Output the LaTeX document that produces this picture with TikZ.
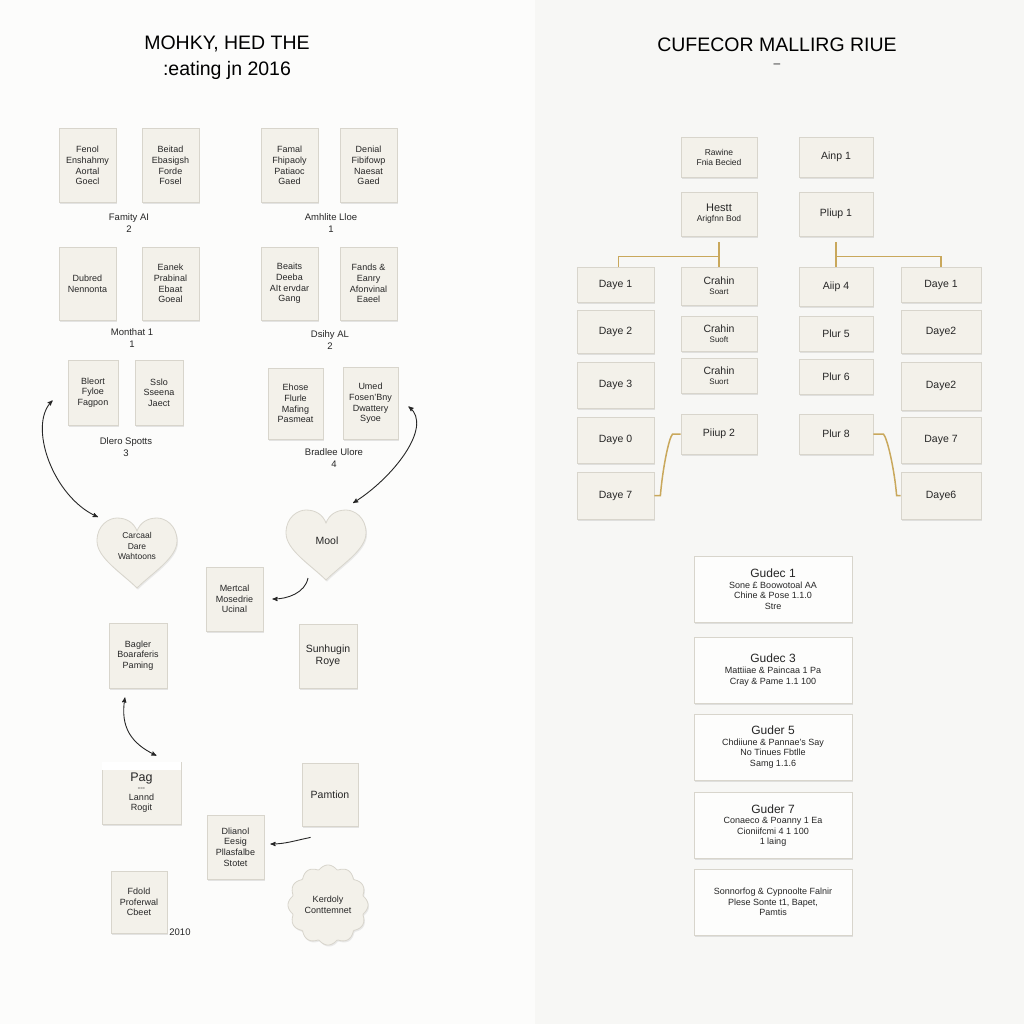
\documentclass[tikz,border=0pt]{standalone}
\usepackage{fontspec}
\setmainfont{Liberation Sans}
\usetikzlibrary{shapes,shadows,arrows,positioning}
\definecolor{leftbg}{HTML}{FCFCFB}
\definecolor{rightbg}{HTML}{F7F7F5}
\definecolor{cardfill}{HTML}{F3F1EA}
\definecolor{cardline}{HTML}{D8D5CC}
\definecolor{guidefill}{HTML}{FDFDFC}
\definecolor{goldline}{HTML}{C9A85C}
\definecolor{ink}{HTML}{262626}
\newcommand{\heartat}[1]{\draw[heart,shift={(#1)}] (0,35)
  .. controls (-15,20) and (-40,5) .. (-40,-12)
  .. controls (-40,-28) and (-28,-35) .. (-20,-35)
  .. controls (-10,-35) and (-3,-30) .. (0,-22)
  .. controls (3,-30) and (10,-35) .. (20,-35)
  .. controls (28,-35) and (40,-28) .. (40,-12)
  .. controls (40,5) and (15,20) .. (0,35) -- cycle;}

\begin{document}
\begin{tikzpicture}[x=1pt,y=-1pt,>=stealth',line width=0.8pt,
  node distance=83pt]
  \tikzstyle{card}=[draw=cardline, fill=cardfill, align=center, inner sep=2pt,
    text=ink, font=\fontsize{9}{10.6}\selectfont,
    drop shadow={opacity=0.2,shadow xshift=1.2pt,shadow yshift=-1.6pt}]
  \tikzstyle{tall}=[card, minimum width=57, minimum height=74]
  \tikzstyle{big}=[font=\fontsize{10.5}{12}\selectfont]
  \tikzstyle{tag}=[align=center, text=ink, font=\fontsize{9.5}{12}\selectfont]
  \tikzstyle{slot}=[card, minimum width=77, minimum height=44, big]
  \tikzstyle{cell}=[card, minimum width=76, minimum height=36, big]
  \tikzstyle{guide}=[card, fill=guidefill, minimum width=158, minimum height=66]
  \tikzstyle{heart}=[draw=cardline, fill=cardfill,
    drop shadow={opacity=0.15,shadow xshift=1pt,shadow yshift=-1.5pt}]
  \tikzstyle{link}=[<->, draw=ink, line width=0.9pt]
  \tikzstyle{gold}=[draw=goldline, line width=1.5pt]

  \fill[leftbg] (0,0) rectangle (1024,1024);
  \fill[rightbg] (535,0) rectangle (1024,1024);
  \useasboundingbox (0,0) rectangle (1024,1024);

  % left panel
  \node[tag, font=\fontsize{19.5}{26}\selectfont, text=black] (TL) at (227,58)
    {MOHKY, HED THE\\:eating jn 2016};

  \node[tall] (L1) at (87.5,165.5) {Fenol\\Enshahmy\\Aortal\\Goecl};
  \node[tall] (L2) [right of=L1]   {Beitad\\Ebasigsh\\Forde\\Fosel};
  \node[tall] (L3) at (289.5,165.5) {Famal\\Fhipaoly\\Patiaoc\\Gaed};
  \node[tall] (L4) [right of=L3, node distance=79pt] {Denial\\Fibifowp\\Naesat\\Gaed};
  \node[tag] (T1) at (129,223) {Famity AI\\2};
  \node[tag] (T2) at (331,223) {Amhlite Lloe\\1};

  \node[tall, minimum height=73] (L5) at (87.5,283.5) {Dubred\\Nennonta};
  \node[tall, minimum height=73] (L6) [right of=L5] {Eanek\\Prabinal\\Ebaat\\Goeal};
  \node[tall, minimum height=73] (L7) at (289.5,283.5) {Beaits\\Deeba\\AIt ervdar\\Gang};
  \node[tall, minimum height=73] (L8) [right of=L7, node distance=79pt] {Fands \&\\Eanry\\Afonvinal\\Eaeel};
  \node[tag] (T3) at (132,338) {Monthat 1\\1};
  \node[tag] (T4) at (330,340) {Dsihy AL\\2};

  \node[card, minimum width=50, minimum height=65] (L9) at (93,392.5) {Bleort\\Fyloe\\Fagpon};
  \node[card, minimum width=48, minimum height=65] (L10) [right of=L9, node distance=66pt] {Sslo\\Sseena\\Jaect};
  \node[tag] (T5) at (126,447) {Dlero Spotts\\3};
  \node[card, minimum width=55, minimum height=71] (L11) at (295.5,403.5) {Ehose\\Flurle\\Mafing\\Pasmeat};
  \node[card, minimum width=55, minimum height=72] (L12) [right of=L11, node distance=75pt] {Umed\\Fosen'Bny\\Dwattery\\Syoe};
  \node[tag] (T6) at (334,458) {Bradlee Ulore\\4};

  % hearts
  \coordinate (H1c) at (137,553);
  \coordinate (H2c) at (326,545);
  \heartat{H1c}
  \heartat{H2c}
  \node[tag, font=\fontsize{8.5}{10.5}\selectfont] (H1) at (137,546) {Carcaal\\Dare\\Wahtoons};
  \node[tag, big] (H2) at (327,541) {Mool};

  \node[card, minimum width=57, minimum height=64] (M1) at (234.5,599) {Mertcal\\Mosedrie\\Ucinal};
  \node[card, minimum width=58, minimum height=65] (M2) at (138,655.5) {Bagler\\Boaraferis\\Paming};
  \node[card, minimum width=58, minimum height=64, big] (M3) at (328,656) {Sunhugin\\Roye};
  \node[card, minimum width=79, minimum height=62] (M4) at (141.5,793)
    {{\fontsize{12.5}{13}\selectfont Pag}\\[-3pt]{\fontsize{4}{5}\selectfont ===}\\Lannd\\Rogit};
  \fill[white] (M4.north west) rectangle ([yshift=-8pt]M4.north east);
  \node[card, minimum width=56, minimum height=63, big] (M5) at (330,794.5) {Pamtion};
  \node[card, minimum width=57, minimum height=64] (M6) at (235.5,847) {Dlianol\\Eesig\\Pllasfalbe\\Stotet};
  \node[card, minimum width=56, minimum height=62] (M7) at (139,902) {Fdold\\Proferwal\\Cbeet};
  \node[tag] (Y1) at (180,932) {2010};

  \coordinate (K) at (328,905);
  \draw[heart, shift={(K)}] plot[domain=0:360, samples=181]
    ({(36+4*abs(cos(6*\x)))*cos(\x)}, {(36+4*abs(cos(6*\x)))*sin(\x)}) -- cycle;
  \node[tag, font=\fontsize{9}{10.6}\selectfont] (K1) at (K) {Kerdoly\\Conttemnet};

  \draw[link] ([shift={(-15,8)}]L9.west) .. controls +(-25,25) and +(-45,-20) .. ([shift={(-39,-29)}]H1.center);
  \draw[link] ([shift={(10,3)}]L12.east) .. controls +(25,20) and +(40,-25) .. ([shift={(26,-38)}]H2.center);
  \draw[->, draw=ink, line width=0.9pt] ([shift={(-19,37)}]H2.center) .. controls +(-3,15) and +(15,0) .. ([xshift=9pt]M1.east);
  \draw[link] ([shift={(-13,9)}]M2.south) .. controls +(-5,30) and +(-25,-12) .. ([shift={(15,-6)}]M4.north);
  \draw[->, draw=ink, line width=0.9pt] ([shift={(9,11)}]M5.south west) .. controls +(-15,3) and +(15,0) .. ([shift={(6,-3)}]M6.east);

  % right panel
  \node[tag, font=\fontsize{19.5}{22}\selectfont, text=black] (TR) at (777,45) {CUFECOR MALLIRG RIUE};
  \node[tag, font=\fontsize{12}{12}\selectfont] (TD) at (777,66) {--};

  \node[cell, minimum height=40, font=\fontsize{8.5}{10}\selectfont] (R1) at (719,157) {Rawine\\Fnia Becied};
  \node[cell, minimum width=74, minimum height=40] (R2) at (836,157) {Ainp 1};
  \node[cell, minimum height=44, font=\fontsize{8.5}{10}\selectfont] (R3) at (719,214)
    {{\fontsize{11}{12}\selectfont Hestt}\\Arigfnn Bod};
  \node[cell, minimum width=74, minimum height=44] (R4) at (836,214) {Pliup 1};

  \node[slot, minimum height=35] (A1) at (615.5,284.5) {Daye 1};
  \node[slot, minimum height=43] (A2) at (615.5,331.5) {Daye 2};
  \node[slot, minimum height=46] (A3) at (615.5,385) {Daye 3};
  \node[slot, minimum height=46] (A4) at (615.5,440) {Daye 0};
  \node[slot, minimum height=47] (A5) at (615.5,495.5) {Daye 7};

  \node[cell, minimum height=38] (B1) at (719,286) {Crahin\\[-2pt]{\fontsize{8}{9}\selectfont Soart}};
  \node[cell, minimum height=35] (B2) at (719,333.5) {Crahin\\[-2pt]{\fontsize{8}{9}\selectfont Suoft}};
  \node[cell, minimum height=35] (B3) at (719,375.5) {Crahin\\[-2pt]{\fontsize{8}{9}\selectfont Suort}};
  \node[cell, minimum height=40] (B4) at (719,434) {Piiup 2};

  \node[cell, minimum width=74, minimum height=39] (C1) at (836,286.5) {Aiip 4};
  \node[cell, minimum width=74, minimum height=35] (C2) at (836,333.5) {Plur 5};
  \node[cell, minimum width=74, minimum height=35] (C3) at (836,376.5) {Plur 6};
  \node[cell, minimum width=74, minimum height=40] (C4) at (836,434) {Plur 8};

  \node[slot, minimum width=80, minimum height=35] (D1) at (941,284.5) {Daye 1};
  \node[slot, minimum width=80, minimum height=43] (D2) at (941,331.5) {Daye2};
  \node[slot, minimum width=80, minimum height=48] (D3) at (941,386) {Daye2};
  \node[slot, minimum width=80, minimum height=46] (D4) at (941,440) {Daye 7};
  \node[slot, minimum width=80, minimum height=47] (D5) at (941,495.5) {Daye6};

  \draw[gold] ([yshift=-6pt]R3.south) -- ([yshift=0pt]B1.north);
  \draw[gold] ([yshift=-20pt]R3.south) -| ([xshift=3pt]A1.north);
  \draw[gold] ([yshift=-6pt]R4.south) -- (C1.north);
  \draw[gold] ([yshift=-20pt]R4.south) -| (D1.north);
  \draw[gold] (B4.west) -- ++(-8,0) .. controls +(-4,4) and +(2,-25) .. ([xshift=6pt]A5.east) -- (A5.east);
  \draw[gold] (C4.east) -- ++(10,0) .. controls +(4,4) and +(-2,-25) .. ([xshift=-4pt]D5.west) -- (D5.west);

  \node[guide] (G1) at (773,589)
    {{\fontsize{12}{13}\selectfont Gudec 1}\\Sone £ Boowotoal AA\\Chine \& Pose 1.1.0\\Stre};
  \node[guide] (G2) [below of=G1, node distance=81pt]
    {{\fontsize{12}{13}\selectfont Gudec 3}\\Mattiiae \& Paincaa 1 Pa\\Cray \& Pame 1.1 100};
  \node[guide] (G3) [below of=G2, node distance=77pt]
    {{\fontsize{12}{13}\selectfont Guder 5}\\Chdiiune \& Pannae's Say\\No Tinues Fbtlle\\Samg 1.1.6};
  \node[guide] (G4) [below of=G3, node distance=78.5pt]
    {{\fontsize{12}{13}\selectfont Guder 7}\\Conaeco \& Poanny 1 Ea\\Cioniifcmi 4 1 100\\1 laing};
  \node[guide] (G5) [below of=G4, node distance=76.5pt]
    {Sonnorfog \& Cypnoolte Falnir\\Plese Sonte t1, Bapet,\\Pamtis};
\end{tikzpicture}
\end{document}
